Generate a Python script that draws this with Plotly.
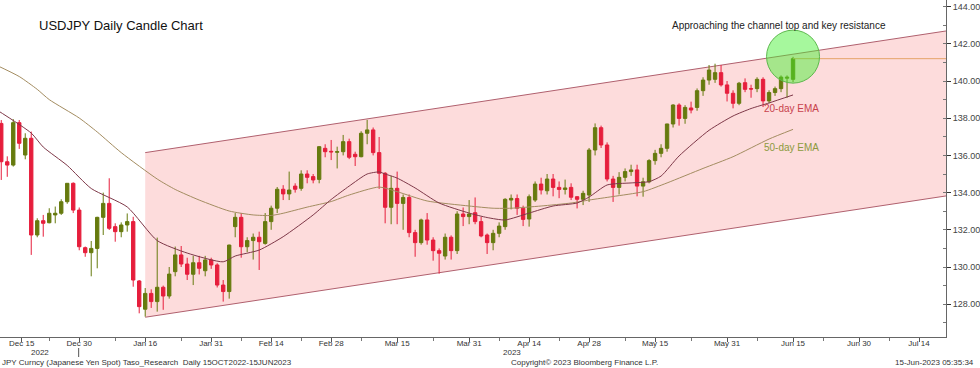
import plotly.graph_objects as go
import pandas as pd

# ---------------- data ----------------
dates = pd.bdate_range("2022-12-13", "2023-06-15")  # weekday candles

opens = [137.72,135.66,135.48,137.76,136.02,136.92,131.72,132.49,132.38,132.80,
         132.89,133.51,134.50,133.06,131.04,130.77,131.00,132.67,133.42,132.17,
         131.90,132.26,132.44,129.25,127.73,128.58,128.14,128.91,128.44,129.75,
         130.65,130.16,129.61,130.23,129.80,130.38,130.11,129.03,128.68,132.17,
         132.67,131.09,131.42,131.60,131.27,132.44,133.16,134.18,133.93,134.35,
         134.23,135.00,134.86,134.71,136.38,136.22,136.17,136.20,136.74,136.06,
         135.93,137.19,137.37,136.15,135.04,133.21,134.23,133.42,133.74,131.85,
         131.31,132.53,131.45,130.88,130.59,131.60,130.88,132.85,132.71,132.92,
         132.44,131.72,131.31,131.81,132.17,133.60,133.68,133.16,132.58,133.60,
         134.46,134.10,134.73,134.28,134.17,134.28,133.78,133.64,133.87,136.29,
         137.49,136.56,134.73,134.28,134.82,135.13,135.22,134.35,134.58,135.72,
         136.11,136.38,137.69,138.71,137.99,138.55,138.58,139.48,140.05,140.09,
         140.45,139.79,139.34,138.80,139.91,139.59,139.59,140.09,138.93,139.38,
         139.59,140.15,140.09]

highs = [137.90,135.95,137.95,137.90,137.19,137.28,132.62,132.80,133.16,133.25,
         133.64,134.50,134.55,133.20,131.10,131.40,132.70,134.00,134.77,132.35,
         132.40,132.88,132.70,129.30,128.87,128.80,131.58,129.00,130.00,131.10,
         131.13,130.50,130.60,130.60,130.60,130.50,130.20,129.30,131.20,132.90,
         132.90,131.60,131.80,131.90,132.90,133.30,134.30,134.40,135.13,134.50,
         135.20,135.20,135.00,136.50,136.60,136.83,136.47,137.10,136.90,136.20,
         137.30,137.91,137.50,136.99,135.10,134.90,135.13,133.90,133.90,132.00,
         132.60,132.90,131.60,131.00,131.80,131.70,133.00,133.20,133.60,133.74,
         132.70,131.80,132.00,132.40,133.70,133.90,133.90,133.30,133.90,134.60,
         134.80,135.00,135.00,134.60,134.70,134.50,133.80,134.10,136.40,137.72,
         137.60,136.70,134.90,135.10,135.30,135.50,135.50,134.80,135.80,136.30,
         136.60,137.70,138.75,138.80,138.70,138.89,139.60,140.20,140.86,140.93,
         140.86,140.00,139.50,139.95,140.14,139.80,140.20,140.20,139.50,139.70,
         140.30,140.30,141.30]

lows = [134.68,134.85,135.40,136.35,135.79,130.65,131.60,131.63,132.35,132.35,
        132.80,133.40,132.90,130.90,130.55,129.50,129.93,131.72,131.99,131.36,
        131.60,131.90,128.94,127.51,127.33,127.80,127.60,127.70,128.30,129.50,
        130.00,129.30,129.03,129.60,129.50,129.90,128.90,128.14,128.30,131.60,
        130.50,130.80,130.40,129.84,131.20,132.00,132.90,133.60,133.60,134.00,
        134.10,134.50,134.50,134.50,135.90,135.75,135.30,136.00,135.80,135.43,
        135.90,136.60,136.00,134.20,132.35,132.30,132.30,132.00,131.60,130.55,
        131.20,131.20,130.34,129.64,130.40,130.40,130.70,132.20,132.30,132.30,
        131.60,130.70,130.90,131.60,132.00,133.10,132.80,132.20,132.17,133.50,
        133.90,133.90,133.80,133.70,133.90,133.60,133.15,133.33,133.50,136.00,
        136.40,134.60,133.50,133.90,134.60,134.90,133.80,133.78,134.50,135.50,
        135.90,136.20,137.50,137.60,137.70,138.26,138.40,139.20,139.80,139.90,
        139.70,138.90,138.53,138.70,139.40,139.10,139.40,138.60,138.80,139.20,
        139.40,139.10,139.94]

closes = [135.66,135.48,137.76,136.65,136.92,131.72,132.49,132.35,132.89,132.89,
          133.51,134.50,133.06,131.09,130.77,131.00,132.67,133.42,132.08,131.90,
          132.26,132.44,129.30,127.87,128.58,128.14,128.91,128.44,129.62,130.65,
          130.16,129.61,130.23,129.93,130.38,130.11,129.03,128.68,131.18,132.67,
          131.09,131.42,131.60,131.36,132.44,133.16,134.18,133.93,134.14,134.18,
          135.00,134.82,134.68,136.47,136.20,136.19,136.20,136.74,135.90,135.93,
          137.19,137.37,136.15,135.04,133.21,134.23,133.42,133.74,131.85,131.31,
          132.53,131.45,130.88,130.74,131.60,130.88,132.85,132.71,132.85,132.44,
          131.67,131.31,131.81,132.20,133.64,133.69,133.16,132.56,133.78,134.46,
          134.14,134.73,134.28,134.17,134.25,133.75,133.64,133.96,136.29,137.49,
          136.56,134.73,134.28,134.82,135.13,135.22,134.35,134.58,135.72,136.11,
          136.38,137.69,138.71,137.99,138.58,138.44,139.48,140.05,140.59,140.45,
          139.79,139.34,138.80,139.88,139.55,139.57,140.09,138.93,139.38,139.59,
          140.21,140.20,141.20]

ema20_dates = ["2022-12-12","2022-12-20","2022-12-22","2022-12-28","2023-01-03","2023-01-11",
               "2023-01-18","2023-01-25","2023-02-02","2023-02-06","2023-02-10","2023-02-16",
               "2023-02-23","2023-02-28","2023-03-03","2023-03-08","2023-03-10","2023-03-13",
               "2023-03-15","2023-03-20","2023-03-24","2023-03-31","2023-04-05","2023-04-10",
               "2023-04-14","2023-04-20","2023-04-26","2023-04-28","2023-05-03","2023-05-09",
               "2023-05-12","2023-05-16","2023-05-19","2023-05-26","2023-06-01","2023-06-06",
               "2023-06-09","2023-06-15"]
ema20_vals = [138.50,137.20,136.45,135.46,134.22,133.23,
              131.42,130.75,130.28,130.59,130.91,131.63,
              132.80,133.63,134.35,135.00,135.11,135.00,
              134.78,134.25,133.44,132.90,132.66,132.53,
              132.90,133.28,133.44,133.76,134.41,134.52,
              134.59,134.89,135.97,137.35,138.12,138.52,
              138.82,139.25]

ema50_dates = ["2022-12-12","2022-12-16","2022-12-21","2022-12-23","2022-12-30","2023-01-04",
               "2023-01-10","2023-01-18","2023-01-23","2023-01-27","2023-02-03","2023-02-09",
               "2023-02-14","2023-02-16","2023-02-22","2023-02-28","2023-03-03","2023-03-10",
               "2023-03-15","2023-03-22","2023-03-31","2023-04-06","2023-04-11","2023-04-18",
               "2023-04-25","2023-04-28","2023-05-04","2023-05-11","2023-05-17","2023-05-25",
               "2023-06-01","2023-06-09","2023-06-15"]
ema50_vals = [140.88,140.24,139.55,139.00,138.01,137.26,
              136.15,134.73,134.17,133.60,133.01,132.80,
              132.77,132.89,133.22,133.52,133.87,134.30,
              134.05,133.55,133.28,133.16,133.16,133.28,
              133.44,133.60,133.79,134.05,134.52,135.30,
              135.93,136.88,137.40]

channel_dates = ["2023-01-16", "2023-07-20 12:00"]
channel_upper = [136.15, 142.69]
channel_lower = [127.30, 133.82]

tick_dates = ["2022-12-16 10:00","2022-12-30","2023-01-16","2023-01-31","2023-02-14","2023-02-28",
              "2023-03-15","2023-03-31","2023-04-14","2023-04-28","2023-05-15","2023-05-31",
              "2023-06-15","2023-06-30","2023-07-14"]
tick_labels = ["Dec 15","Dec 30","Jan 16","Jan 31","Feb 14","Feb 28","Mar 15","Mar 31",
               "Apr 14","Apr 28","May 15","May 31","Jun 15","Jun 30","Jul 14"]
minor_dates = ["2022-12-23","2023-01-09","2023-01-24","2023-02-07","2023-02-21","2023-03-07",
               "2023-03-23","2023-04-07","2023-04-21","2023-05-08","2023-05-23","2023-06-07",
               "2023-06-22","2023-07-07"]

x_range = ["2022-12-12 19:00", "2023-07-20 12:00"]
y_range = [126.237, 144.355]

FONT = "Liberation Sans"
RED = "#e61e3c"
OLIVE = "#667a0e"
CHANNEL_LINE = "#b0606e"

fig = go.Figure()

# channel fill + borders as shapes below the traces
def d(s):
    return str(s).replace(" ", "_")

chan_path = (f"M{d(channel_dates[0])},{channel_upper[0]} L{d(channel_dates[1])},{channel_upper[1]} "
             f"L{d(channel_dates[1])},{channel_lower[1]} L{d(channel_dates[0])},{channel_lower[0]} Z")
fig.add_shape(type="path", xref="x", yref="y", path=chan_path, layer="below",
              fillcolor="#fddcdc", line=dict(width=0))
for ys in (channel_upper, channel_lower):
    fig.add_shape(type="line", xref="x", yref="y", layer="below",
                  x0=channel_dates[0], x1=channel_dates[1], y0=ys[0], y1=ys[1],
                  line=dict(color=CHANNEL_LINE, width=1))

# candles
fig.add_trace(go.Candlestick(
    x=dates, open=opens, high=highs, low=lows, close=closes,
    increasing=dict(line=dict(color=OLIVE, width=1), fillcolor=OLIVE),
    decreasing=dict(line=dict(color=RED, width=1), fillcolor=RED),
    whiskerwidth=0))

# EMAs
fig.add_trace(go.Scatter(x=ema50_dates, y=ema50_vals, mode="lines",
                         line=dict(color="#a38c60", width=1, shape="spline", smoothing=0.6)))
fig.add_trace(go.Scatter(x=ema20_dates, y=ema20_vals, mode="lines",
                         line=dict(color="#7e3848", width=1, shape="spline", smoothing=0.6)))

# last price line
fig.add_trace(go.Scatter(x=[dates[-1], x_range[1]], y=[closes[-1], closes[-1]], mode="lines",
                         line=dict(color="#e5a468", width=1), hoverinfo="skip"))

# highlight circle
fig.add_shape(type="circle", xref="x", yref="y", xsizemode="pixel", ysizemode="pixel",
              xanchor=dates[-1], yanchor=141.31, x0=-26.5, x1=26.5, y0=-26.5, y1=26.5,
              fillcolor="rgba(70,240,50,0.48)", line=dict(color="#5cb84c", width=1))

# year separator
fig.add_shape(type="line", xref="paper", yref="paper", x0=79/950, x1=79/950,
              y0=-11/337, y1=-20/337, line=dict(color="#555", width=1))

W, H = 950.0, 337.0
def px(x):
    return x / W
def py(y):
    return (H - y) / H

ann = [
    dict(text="USDJPY Daily Candle Chart", x=px(37), y=py(25), xanchor="left",
         font=dict(size=13, color="#111")),
    dict(text="Approaching the channel top and key resistance", x=px(673), y=py(25.7),
         xanchor="left", font=dict(size=10, color="#222")),
    dict(text="20-day EMA", x=px(765), y=py(109), xanchor="left",
         font=dict(size=10, color="#c8424c")),
    dict(text="50-day EMA", x=px(765), y=py(148), xanchor="left",
         font=dict(size=10, color="#8c9a3e")),
    dict(text="2022", x=px(40), y=py(352.7), xanchor="center", font=dict(size=8, color="#333")),
    dict(text="2023", x=px(514), y=py(352.7), xanchor="center", font=dict(size=8, color="#333")),
    dict(text="JPY Curncy (Japanese Yen Spot) Taso_Research&nbsp; Daily 15OCT2022-15JUN2023",
         x=0, y=py(362.7), xanchor="left", font=dict(size=8, color="#333")),
    dict(text="Copyright\u00a9 2023 Bloomberg Finance L.P.", x=px(587), y=py(362.7),
         xanchor="center", font=dict(size=8, color="#333")),
    dict(text="15-Jun-2023 05:35:34", x=px(980), y=py(362.7), xanchor="right",
         font=dict(size=8, color="#333")),
]
for a in ann:
    a.update(xref="paper", yref="paper", yanchor="middle", showarrow=False)
    a["font"]["family"] = FONT
fig.update_layout(annotations=ann)

fig.update_layout(
    width=980, height=368, margin=dict(l=0, r=30, t=0, b=31),
    plot_bgcolor="white", paper_bgcolor="white", showlegend=False,
    boxgap=0.2,
    font=dict(family=FONT, size=8, color="#333"),
    xaxis=dict(type="date", range=x_range, rangebreaks=[dict(bounds=["sat", "mon"])],
               rangeslider=dict(visible=False), showgrid=False, zeroline=False,
               showline=True, linecolor="#666", linewidth=1,
               tickmode="array", tickvals=tick_dates, ticktext=tick_labels,
               ticks="outside", ticklen=4, tickcolor="#555",
               ticklabelstandoff=-6,
               tickfont=dict(family=FONT, size=8, color="#333"),
               minor=dict(tickmode="array", tickvals=minor_dates, ticks="outside",
                          ticklen=3, tickcolor="#777")),
    yaxis=dict(side="right", range=y_range, showgrid=False, zeroline=False,
               showline=True, linecolor="#666", linewidth=1,
               tickmode="linear", tick0=128, dtick=2, tickformat=".2f",
               ticks="outside", ticklen=4, tickcolor="#333",
               tickfont=dict(family=FONT, size=9, color="#444"),
               minor=dict(tickmode="linear", tick0=127, dtick=1, ticks="inside",
                          ticklen=3, tickcolor="#777")),
)

fig.write_html("out.html")
